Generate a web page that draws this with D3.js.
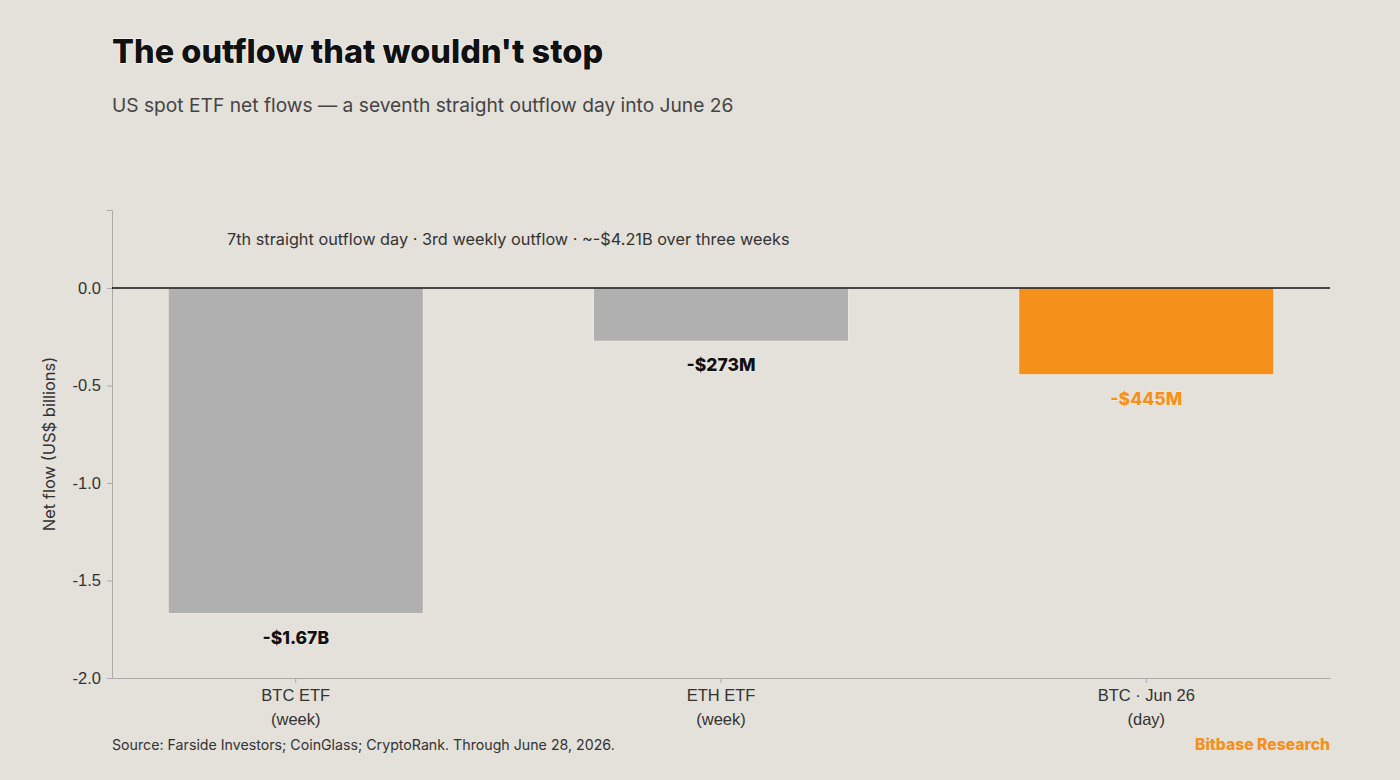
<!DOCTYPE html>
<html lang="en">
<head>
<meta charset="UTF-8">
<title>The outflow that wouldn't stop</title>
<script src="https://d3js.org/d3.v7.min.js"></script>
<style>
  html, body { margin: 0; padding: 0; background: #e4e0da; }
  svg { display: block; font-family: "Inter", "Lato", "Noto Sans", sans-serif; }
  .axis path, .axis line { stroke: #aaaaaa; }
  .axis text { fill: #333; font-size: 16.5px; }
</style>
</head>
<body>
<svg id="chart" width="1400" height="780"></svg>
<script>
// data
const categories = ["BTC ETF|(week)", "ETH ETF|(week)", "BTC · Jun 26|(day)"];
const netFlows = [-1.67, -0.273, -0.445];
const valueLabels = ["-$1.67B", "-$273M", "-$445M"];
const highlight = [false, false, true];
const yTicks = [0, -0.5, -1.0, -1.5, -2.0];

const margin = { top: 210, right: 70, bottom: 102, left: 112 };
const width = 1400 - margin.left - margin.right;
const height = 780 - margin.top - margin.bottom;

const svg = d3.select("#chart");

svg.append("text")
  .attr("x", 112).attr("y", 63)
  .attr("font-size", 32.5).attr("font-weight", 800)
  .attr("fill", "#111")
  .attr("stroke", "#fff").attr("stroke-width", 1.2).attr("paint-order", "stroke")
  .text("The outflow that wouldn't stop");

svg.append("text")
  .attr("x", 112).attr("y", 112)
  .attr("font-size", 19.2).attr("fill", "#444")
  .text("US spot ETF net flows — a seventh straight outflow day into June 26");

const g = svg.append("g")
  .attr("transform", "translate(" + margin.left + "," + margin.top + ")");

const x = d3.scaleBand()
  .domain(categories)
  .range([0, width])
  .paddingInner(0.4)
  .paddingOuter(0.132);

const y = d3.scaleLinear().domain([-2.0, 0.4]).range([height, 0]);

// bars
g.selectAll(".bar")
  .data(netFlows)
  .join("rect")
  .attr("class", "bar")
  .attr("x", (d, i) => x(categories[i]))
  .attr("width", x.bandwidth())
  .attr("y", y(0))
  .attr("height", d => y(d) - y(0))
  .attr("fill", (d, i) => highlight[i] ? "#f5911a" : "#b0b0b0")
  .attr("stroke", "#eeeae4").attr("stroke-width", 1);

// value labels
g.selectAll(".val")
  .data(netFlows)
  .join("text")
  .attr("class", "val")
  .attr("x", (d, i) => x(categories[i]) + x.bandwidth() / 2)
  .attr("y", d => y(d) + 30)
  .attr("text-anchor", "middle")
  .attr("font-size", 17.5).attr("font-weight", 800)
  .attr("fill", (d, i) => highlight[i] ? "#f5911a" : "#111")
  .attr("stroke", "#f2eee8").attr("stroke-width", 1).attr("paint-order", "stroke")
  .text((d, i) => valueLabels[i]);

// axes
const yAxis = g.append("g").attr("class", "axis")
  .call(d3.axisLeft(y).tickValues(yTicks).tickFormat(d3.format(".1f")).tickSize(5).tickPadding(6));
yAxis.selectAll("text").text(d => d3.format(".1f")(d).replace("−", "-"));

const xAxis = g.append("g").attr("class", "axis")
  .attr("transform", "translate(0," + height + ")")
  .call(d3.axisBottom(x).tickSize(5).tickPadding(6).tickSizeOuter(0));
xAxis.selectAll("text").each(function (d) {
  const t = d3.select(this).text("");
  d.split("|").forEach((line, i) => {
    t.append("tspan").attr("x", 0).attr("dy", i === 0 ? "0.71em" : "1.45em").text(line);
  });
});

// zero line
g.append("line")
  .attr("x1", 0).attr("x2", width)
  .attr("y1", y(0)).attr("y2", y(0))
  .attr("stroke", "#111").attr("stroke-width", 1.5);

// annotation
g.append("text")
  .attr("x", 227 - margin.left).attr("y", y(0.22))
  .attr("font-size", 16.3).attr("fill", "#333")
  .text("7th straight outflow day · 3rd weekly outflow · ~-$4.21B over three weeks");

// y label
svg.append("text")
  .attr("transform", "translate(55," + (margin.top + height / 2) + ") rotate(-90)")
  .attr("text-anchor", "middle")
  .attr("font-size", 16.5).attr("fill", "#333")
  .text("Net flow (US$ billions)");

// footer
svg.append("text")
  .attr("x", 112).attr("y", 750)
  .attr("font-size", 14.2).attr("fill", "#333")
  .text("Source: Farside Investors; CoinGlass; CryptoRank. Through June 28, 2026.");

svg.append("text")
  .attr("x", 1330).attr("y", 750)
  .attr("text-anchor", "end")
  .attr("font-size", 15.7).attr("font-weight", 800).attr("fill", "#f5911a")
  .text("Bitbase Research");
</script>
</body>
</html>
